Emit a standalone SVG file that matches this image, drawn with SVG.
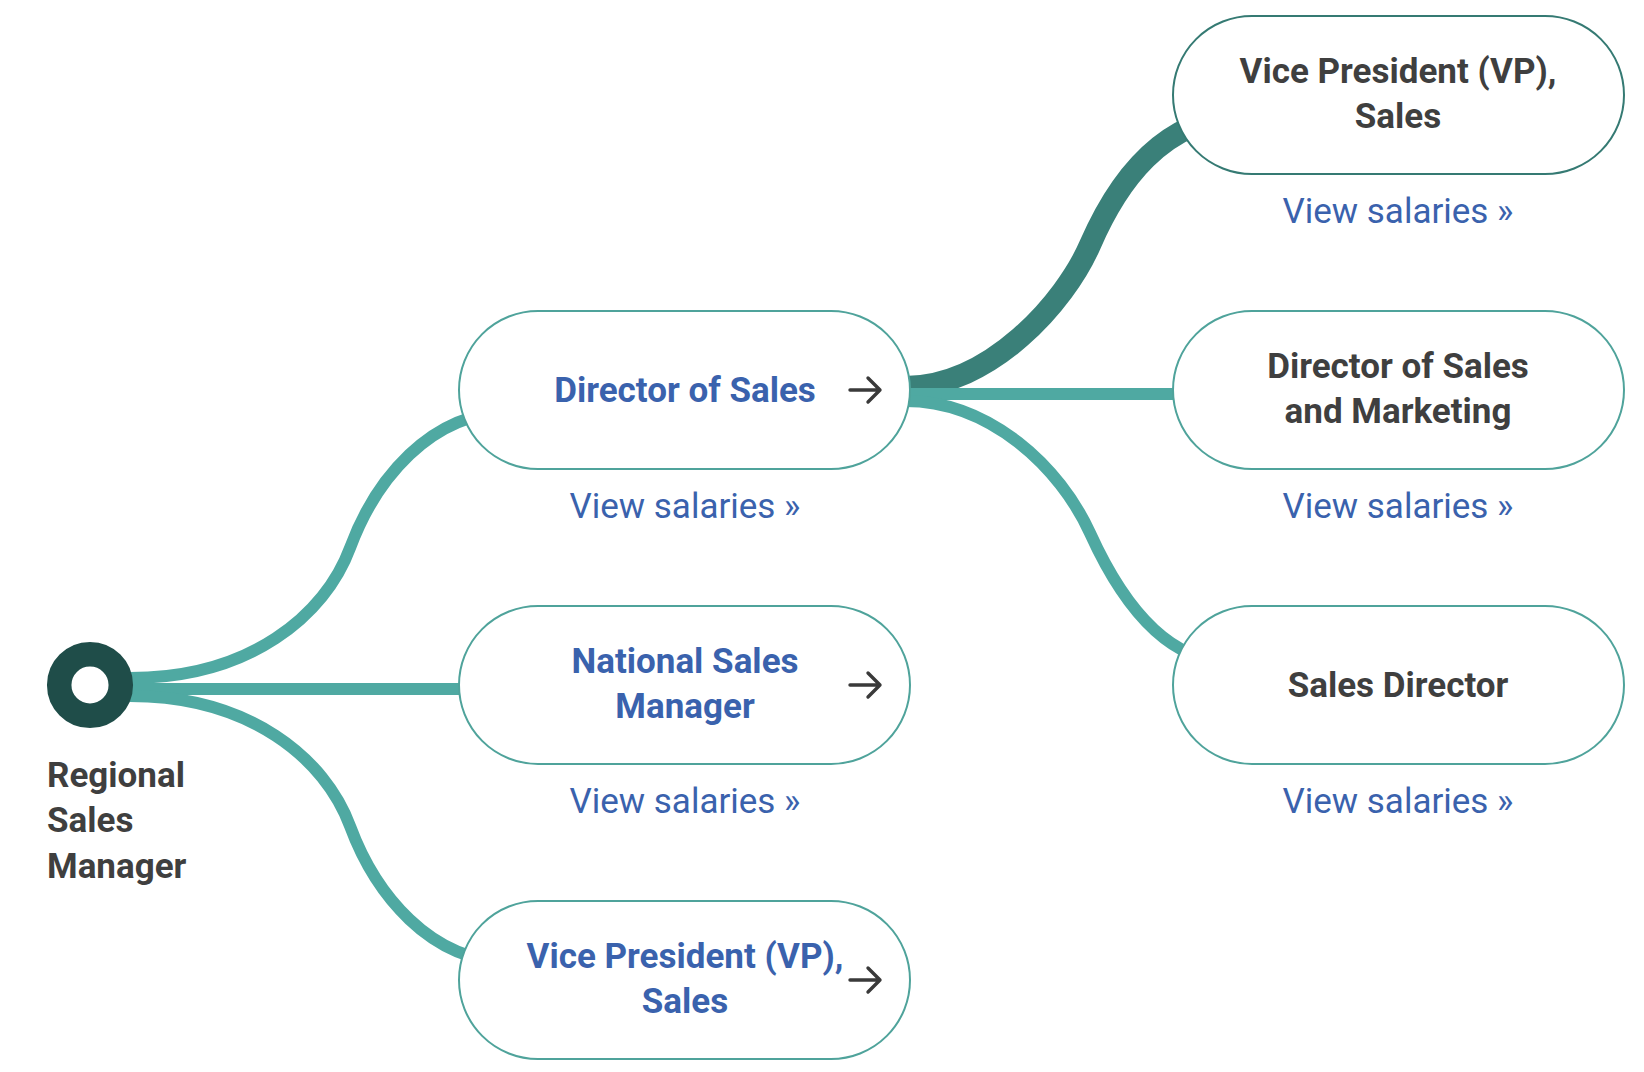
<svg xmlns="http://www.w3.org/2000/svg" width="1644" height="1072" viewBox="0 0 1644 1072">
<style>
.bg{fill:#ffffff}
.link{fill:none;stroke:#4fa9a2;stroke-width:12}
.link-dark{fill:none;stroke:#3a8079;stroke-width:22}
.box{fill:#ffffff;stroke:#4fa39b;stroke-width:2}
.box-dark{fill:#ffffff;stroke:#357a73;stroke-width:2}
.t{font-family:Roboto,"Liberation Sans",sans-serif;font-size:35px;text-anchor:middle}
.blue{fill:#3a62ad;font-weight:700}
.gray{fill:#3f3f3f;font-weight:700}
.sal{fill:#3a62ad;font-weight:400}
.arrow{fill:none;stroke:#3a3a3a;stroke-width:3.4;stroke-linecap:round;stroke-linejoin:round}
.lbl{font-family:Roboto,"Liberation Sans",sans-serif;font-size:35px;font-weight:700;fill:#3f3f3f}
</style>
<rect class="bg" x="0" y="0" width="1644" height="1072"/>
<g id="connectors">
  <path class="link" d="M130,678 C250,678 325,615.5 350,548 C375,480.5 430,412 510,412"/>
  <path class="link" d="M130,689 L470,689"/>
  <path class="link" d="M130,696 C250,696 325,758.5 350,826 C375,893.5 430,962 510,962"/>
  <path class="link-dark" d="M905,387 C990,387 1065,302.5 1090,245 C1115,187.5 1160,115 1250,115"/>
  <path class="link" d="M905,394 L1185,394"/>
  <path class="link" d="M905,401 C990,401 1060,467 1090,533 C1125,610 1170,662 1230,662"/>
</g>
<g id="root">
  <circle cx="90" cy="685" r="30.8" fill="#ffffff" stroke="#1f4d49" stroke-width="24.5"/>
  <text class="lbl" x="47" y="787">Regional</text>
  <text class="lbl" x="47" y="832">Sales</text>
  <text class="lbl" x="47" y="878">Manager</text>
</g>
<g id="director-of-sales">
  <rect class="box" x="459" y="311" width="451" height="158" rx="79"/>
  <text class="t blue" x="685" y="402">Director of Sales</text>
  <path class="arrow" d="M850,390 H880 M868,378 L880,390 L868,402"/>
  <text class="t sal" x="685" y="518">View salaries »</text>
</g>
<g id="national-sales-manager">
  <rect class="box" x="459" y="606" width="451" height="158" rx="79"/>
  <text class="t blue" x="685" y="673">National Sales</text>
  <text class="t blue" x="685" y="718">Manager</text>
  <path class="arrow" d="M850,685 H880 M868,673 L880,685 L868,697"/>
  <text class="t sal" x="685" y="813">View salaries »</text>
</g>
<g id="vp-sales-mid">
  <rect class="box" x="459" y="901" width="451" height="158" rx="79"/>
  <text class="t blue" x="685" y="968">Vice President (VP),</text>
  <text class="t blue" x="685" y="1013">Sales</text>
  <path class="arrow" d="M850,980 H880 M868,968 L880,980 L868,992"/>
</g>
<g id="vp-sales-right">
  <rect class="box-dark" x="1173" y="16" width="451" height="158" rx="79"/>
  <text class="t gray" x="1398" y="83">Vice President (VP),</text>
  <text class="t gray" x="1398" y="128">Sales</text>
  <text class="t sal" x="1398" y="223">View salaries »</text>
</g>
<g id="director-sales-marketing">
  <rect class="box" x="1173" y="311" width="451" height="158" rx="79"/>
  <text class="t gray" x="1398" y="378">Director of Sales</text>
  <text class="t gray" x="1398" y="423">and Marketing</text>
  <text class="t sal" x="1398" y="518">View salaries »</text>
</g>
<g id="sales-director">
  <rect class="box" x="1173" y="606" width="451" height="158" rx="79"/>
  <text class="t gray" x="1398" y="697">Sales Director</text>
  <text class="t sal" x="1398" y="813">View salaries »</text>
</g>
</svg>
